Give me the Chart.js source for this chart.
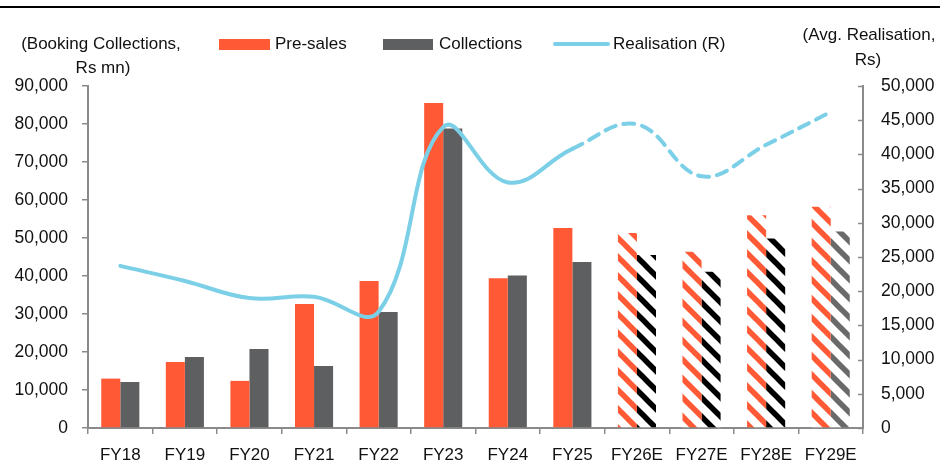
<!DOCTYPE html>
<html>
<head>
<meta charset="utf-8">
<script src="https://cdn.jsdelivr.net/npm/chart.js@4.4.1/dist/chart.umd.min.js"></script>
<style>
  body { margin: 0; background: #fff; }
  #wrap { position: relative; width: 951px; height: 464px; }
  #rule { position: absolute; left: 0; top: 6px; width: 940px; border-top: 2px solid #000; }
</style>
</head>
<body>
<div id="wrap">
  <div id="rule"></div>
  <canvas id="bookingChart" width="951" height="464"></canvas>
</div>
<script>
// ---------- data ----------
var years = ['FY18', 'FY19', 'FY20', 'FY21', 'FY22', 'FY23', 'FY24', 'FY25', 'FY26E', 'FY27E', 'FY28E', 'FY29E'];
var preSales = [13000, 17400, 12400, 32600, 38700, 85500, 39400, 52600, 51300, 46400, 56000, 58200];
var collections = [12100, 18700, 20800, 16300, 30500, 78800, 40100, 43700, 45500, 41100, 49900, 51700];
var realisation = [23700, 21500, 19000, 19200, 17000, 44000, 35900, 40800, 44400, 36800, 41400, 46200];
var leftTicks = [0, 10000, 20000, 30000, 40000, 50000, 60000, 70000, 80000, 90000];
var rightTicks = [0, 5000, 10000, 15000, 20000, 25000, 30000, 35000, 40000, 45000, 50000];
var firstEstimate = 8; // FY26E onwards are estimates

var RED = '#ff5a35';
var GREY = '#5e5f61';
var BLUE = '#7bcfe6';
var AXIS = '#8a8a8a';
var FONT = '"Liberation Sans", Arial, sans-serif';

// diagonal stripe fill for estimate bars
function stripes(color) {
    var s = 19;
    var c = document.createElement('canvas');
    c.width = s; c.height = s;
    var g = c.getContext('2d');
    g.fillStyle = '#fff';
    g.fillRect(0, 0, s, s);
    g.strokeStyle = color;
    g.lineWidth = 5.5;
    for (var k = -1; k <= 1; k++) {
        g.beginPath();
        g.moveTo(k * s - 2, -2);
        g.lineTo(k * s + s + 2, s + 2);
        g.stroke();
    }
    var ctx = document.getElementById('bookingChart').getContext('2d');
    return ctx.createPattern(c, 'repeat');
}

var redHatch = stripes(RED);
var blackHatch = stripes('#000');
var greyHatch = stripes('#6a6a6a');

var preColors = years.map(function (y, i) { return i >= firstEstimate ? redHatch : RED; });
var colColors = years.map(function (y, i) {
    if (i < firstEstimate) return GREY;
    return i === years.length - 1 ? greyHatch : blackHatch;
});

// legend, axis titles and inward ticks on the right axis
var decorations = {
    id: 'decorations',
    afterDraw: function (chart) {
        var ctx = chart.ctx;
        ctx.save();
        ctx.font = '17px ' + FONT;
        ctx.fillStyle = '#111';
        ctx.textBaseline = 'middle';

        ctx.textAlign = 'center';
        ctx.fillText('(Booking Collections,', 101, 44);
        ctx.fillText('Rs mn)', 103, 68);
        ctx.fillText('(Avg. Realisation,', 869, 35);
        ctx.fillText('Rs)', 868, 60);

        ctx.textAlign = 'left';
        ctx.fillStyle = RED;
        ctx.fillRect(219, 39, 51, 11);
        ctx.fillStyle = GREY;
        ctx.fillRect(383, 39, 50, 11);
        ctx.strokeStyle = BLUE;
        ctx.lineWidth = 4;
        ctx.lineCap = 'round';
        ctx.beginPath();
        ctx.moveTo(555, 44);
        ctx.lineTo(608, 44);
        ctx.stroke();
        ctx.fillStyle = '#111';
        ctx.fillText('Pre-sales', 275, 44);
        ctx.fillText('Collections', 439, 44);
        ctx.fillText('Realisation (R)', 613, 44);

        var s = chart.scales.y1;
        ctx.strokeStyle = AXIS;
        ctx.lineWidth = 1.5;
        ctx.lineCap = 'butt';
        s.ticks.forEach(function (t, i) {
            var y = Math.round(s.getPixelForTick(i)) + 0.5;
            ctx.beginPath();
            ctx.moveTo(s.left - 5, y);
            ctx.lineTo(s.left, y);
            ctx.stroke();
        });
        ctx.restore();
    }
};

var tickFont = { family: FONT, size: 17 };
var yTickFont = { family: FONT, size: 17.5 };

new Chart(document.getElementById('bookingChart'), {
    data: {
        labels: years,
        datasets: [
            {
                type: 'line',
                label: 'Realisation (R)',
                data: realisation,
                yAxisID: 'y1',
                borderColor: BLUE,
                borderWidth: 4,
                pointRadius: 0,
                tension: 0.4,
                borderCapStyle: 'round',
                order: 0,
                segment: {
                    borderDash: function (c) { return c.p0DataIndex >= firstEstimate - 1 ? [11, 8] : undefined; }
                }
            },
            {
                type: 'bar',
                label: 'Pre-sales',
                data: preSales,
                yAxisID: 'y',
                backgroundColor: preColors,
                barPercentage: 1,
                categoryPercentage: 0.59,
                order: 1
            },
            {
                type: 'bar',
                label: 'Collections',
                data: collections,
                yAxisID: 'y',
                backgroundColor: colColors,
                barPercentage: 1,
                categoryPercentage: 0.59,
                order: 1
            }
        ]
    },
    options: {
        responsive: false,
        animation: false,
        layout: { padding: { top: 86, left: 0, right: 0, bottom: 0 } },
        plugins: { legend: { display: false }, tooltip: { enabled: false } },
        scales: {
            x: {
                offset: true,
                grid: { offset: true, drawOnChartArea: false, drawTicks: true, tickLength: 6, color: AXIS, lineWidth: 1.5 },
                border: { display: true, color: AXIS, width: 2 },
                ticks: { color: '#111', font: tickFont, padding: 11, maxRotation: 0, autoSkip: false },
                afterFit: function (s) { s.height = 36; }
            },
            y: {
                position: 'left',
                min: 0,
                max: 90000,
                afterBuildTicks: function (s) { s.ticks = leftTicks.map(function (v) { return { value: v }; }); },
                grid: { drawOnChartArea: false, drawTicks: true, tickLength: 6, color: AXIS, lineWidth: 1.5 },
                border: { display: true, color: AXIS, width: 2 },
                ticks: {
                    color: '#111', font: yTickFont, padding: 14,
                    callback: function (v) { return v.toLocaleString('en-US'); }
                },
                afterFit: function (s) { s.width = 88; }
            },
            y1: {
                position: 'right',
                min: 0,
                max: 50000,
                afterBuildTicks: function (s) { s.ticks = rightTicks.map(function (v) { return { value: v }; }); },
                grid: { drawOnChartArea: false, drawTicks: false },
                border: { display: true, color: AXIS, width: 2 },
                ticks: {
                    color: '#111', font: yTickFont, padding: 18,
                    callback: function (v) { return v.toLocaleString('en-US'); }
                },
                afterFit: function (s) { s.width = 88; }
            }
        }
    },
    plugins: [decorations]
});
</script>
</body>
</html>
